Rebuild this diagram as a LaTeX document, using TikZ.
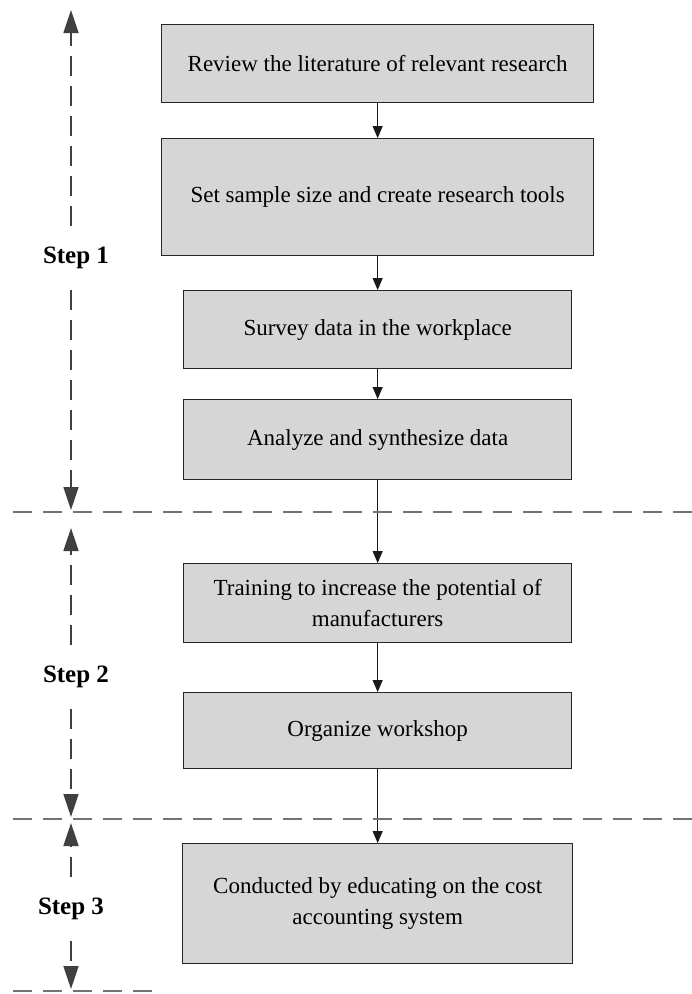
\documentclass[tikz,border=0pt]{standalone}
\usepackage{fontspec}
\setmainfont{Liberation Serif}
\usetikzlibrary{arrows.meta}
\definecolor{boxgray}{RGB}{214,214,214}
\definecolor{rulegray}{RGB}{115,115,115}
\begin{document}
\begin{tikzpicture}[x=1pt,y=-1pt,
  stage/.style={draw=black!85, line width=1.3pt, fill=boxgray, anchor=north west,
    font=\fontsize{23}{31}\selectfont, align=center, inner sep=0pt},
  flow/.style={line width=1pt, draw=black!90, -{Triangle[length=12pt,width=10pt]}},
  steplabel/.style={font=\fontsize{25}{30}\selectfont\bfseries, inner sep=0pt,
    minimum height=64pt},
  stepline/.style={line width=1.6pt, draw=black!75, dash pattern=on 20pt off 10pt,
    -{Triangle[length=23pt,width=15pt]}},
  divider/.style={line width=2pt, draw=rulegray, dash pattern=on 19pt off 11pt}
]
\useasboundingbox (0,0) rectangle (692,994);
\fill[white] (0,0) rectangle (692,994);

% process boxes, all centred on x = 377
\node[stage, minimum width=432pt, minimum height=78pt] (b1) at (161,24)
  {Review the literature of relevant research};
\node[stage, minimum width=432pt, minimum height=117pt] (b2) at (161,138)
  {Set sample size and create research tools};
\node[stage, minimum width=388pt, minimum height=78pt] (b3) at (183,290)
  {Survey data in the workplace};
\node[stage, minimum width=388pt, minimum height=80pt] (b4) at (183,399)
  {Analyze and synthesize data};
\node[stage, minimum width=388pt, minimum height=79pt] (b5) at (183,563)
  {Training to increase the potential of\\manufacturers};
\node[stage, minimum width=388pt, minimum height=76pt] (b6) at (183,692)
  {Organize workshop};
\node[stage, minimum width=390pt, minimum height=120pt] (b7) at (182,843)
  {Conducted by educating on the cost\\accounting system};

% flow between boxes
\draw[flow] (b1.south) -- (b2.north);
\draw[flow] (b2.south) -- (b3.north);
\draw[flow] (b3.south) -- (b4.north);
\draw[flow] (b4.south) -- (b5.north);
\draw[flow] (b5.south) -- (b6.north);
\draw[flow] (b6.south) -- (b7.north);

% dividers between the steps
\coordinate (d1a) at (13,512);  \coordinate (d1b) at (692,512);
\coordinate (d2a) at (13,819);  \coordinate (d2b) at (692,819);
\coordinate (d3a) at (13,991);  \coordinate (d3b) at (158,991);
\draw[divider] (d1a) -- (d1b);
\draw[divider] (d2a) -- (d2b);
\draw[divider] (d3a) -- (d3b);

% step spans
\coordinate (s1top) at (71,10);  \coordinate (s1bot) at (71,510);
\coordinate (s2top) at (71,528); \coordinate (s2bot) at (71,817);
\coordinate (s3top) at (71,823); \coordinate (s3bot) at (71,989);

\node[steplabel] (s1) at (76,258) {Step 1};
\node[steplabel] (s2) at (76,677) {Step 2};
\node[steplabel] (s3) at (71,909) {Step 3};

\draw[stepline] (s1top |- s1.north) -- (s1top);
\draw[stepline] (s1bot |- s1.south) -- (s1bot);
\draw[stepline] (s2top |- s2.north) -- (s2top);
\draw[stepline] (s2bot |- s2.south) -- (s2bot);
\draw[stepline] (s3top |- s3.north) -- (s3top);
\draw[stepline] (s3bot |- s3.south) -- (s3bot);
\end{tikzpicture}
\end{document}
